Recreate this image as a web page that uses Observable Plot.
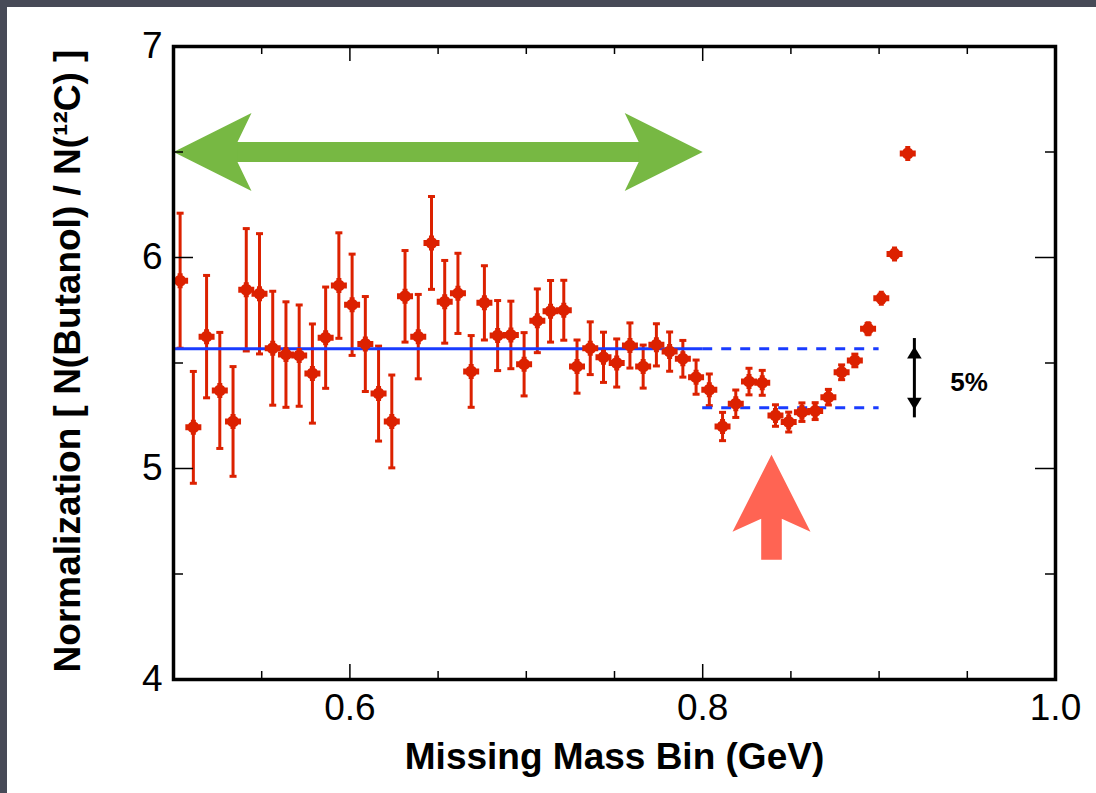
<!DOCTYPE html>
<html><head><meta charset="utf-8">
<script src="https://cdn.jsdelivr.net/npm/d3@7"></script>
<script src="https://cdn.jsdelivr.net/npm/@observablehq/plot@0.6"></script>
<style>
html,body{margin:0;padding:0;background:#474a57;width:1096px;height:793px;overflow:hidden}
#panel{position:absolute;left:7px;top:7px;width:1089px;height:786px;background:#fff}
</style></head><body><div id="panel"></div>
<script>
// ---- data ----
const massBin = [0.50375, 0.51125, 0.51875, 0.52625, 0.53375, 0.54125, 0.54875, 0.55625, 0.56375, 0.57125,
  0.57875, 0.58625, 0.59375, 0.60125, 0.60875, 0.61625, 0.62375, 0.63125, 0.63875, 0.64625,
  0.65375, 0.66125, 0.66875, 0.67625, 0.68375, 0.69125, 0.69875, 0.70625, 0.71375, 0.72125,
  0.72875, 0.73625, 0.74375, 0.75125, 0.75875, 0.76625, 0.77375, 0.78125, 0.78875, 0.79625,
  0.80375, 0.81125, 0.81875, 0.82625, 0.83375, 0.84125, 0.84875, 0.85625, 0.86375, 0.87125,
  0.87875, 0.88625, 0.89375, 0.90125, 0.90875, 0.91625];
const normalization = [5.89, 5.195, 5.625, 5.37, 5.223, 5.847, 5.828, 5.57, 5.54, 5.535,
  5.45, 5.62, 5.867, 5.776, 5.59, 5.355, 5.223, 5.816, 5.625, 6.069,
  5.79, 5.83, 5.46, 5.785, 5.63, 5.633, 5.494, 5.70, 5.745, 5.75,
  5.483, 5.57, 5.527, 5.50, 5.583, 5.483, 5.586, 5.554, 5.52, 5.433,
  5.373, 5.199, 5.307, 5.412, 5.406, 5.251, 5.22, 5.267, 5.272, 5.338,
  5.456, 5.512, 5.662, 5.807, 6.017, 6.493];
const normError = [0.32, 0.265, 0.29, 0.275, 0.26, 0.29, 0.285, 0.27, 0.25, 0.24,
  0.235, 0.24, 0.25, 0.24, 0.225, 0.225, 0.22, 0.217, 0.2, 0.22,
  0.196, 0.19, 0.17, 0.176, 0.166, 0.16, 0.15, 0.151, 0.146, 0.142,
  0.126, 0.125, 0.119, 0.114, 0.107, 0.102, 0.1, 0.093, 0.087, 0.081,
  0.075, 0.067, 0.065, 0.063, 0.059, 0.051, 0.047, 0.044, 0.04, 0.037,
  0.035, 0.03, 0.025, 0.02, 0.018, 0.015];

const plateauLevel = [5.567];          // mean normalization, 0.5–0.8 GeV
const lowerLevel = [5.288];            // 5% below
const solidSpan = [0.5, 0.8];
const dashedSpan = [0.8, 0.9];
const greenArrowX = [0.5, 0.8];
const greenArrowY = [6.5];
const redArrowTip = [{x: 0.839, y: 5.065}];
const bandArrowX = [0.92];
const bandArrowY = [5.278, 5.578];
const bandLabel = [{x: 0.951, y: 5.409, text: "5%"}];

const xLabelTicks = [0.6, 0.8, 1.0];
const xMajorTicks = [0.6, 0.8];
const xMinorTicks = [0.55, 0.65, 0.7, 0.75, 0.85, 0.9, 0.95];
const yLabelTicks = [4, 5, 6, 7];
const yMajorTicks = [5, 6];
const yMinorTicks = [4.5, 5.5, 6.5];
const xTitle = "Missing Mass Bin (GeV)";
const yTitle = "Normalization [ N(Butanol) / N(\u00B9\u00B2C) ]";

// ---- styling ----
const RED = "#dc2100", BLUE = "#1a3cff", GREEN = "#77b843", SALMON = "#ff6453";
const W = 882, H = 633;

function rect(c, x, y, w, h) { c.moveTo(x, y); c.lineTo(x + w, y); c.lineTo(x + w, y + h); c.lineTo(x, y + h); c.closePath(); }
const blob = {draw(c) { c.moveTo(6, 0); c.arc(0, 0, 6, 0, 2 * Math.PI); c.closePath(); rect(c, -8, -3, 16, 6); rect(c, -2.5, -7.5, 5, 15); }};
const cap = {draw(c) { rect(c, -3.5, -1.5, 7, 3); }};
const greenHead = {draw(c) { c.moveTo(0, 0); c.lineTo(-78, -39); c.lineTo(-64, -10); c.lineTo(-64, 10); c.lineTo(-78, 39); c.closePath(); }};
const redArrow = {draw(c) { c.moveTo(0, 0); c.lineTo(39, 77); c.lineTo(10.3, 64); c.lineTo(10.3, 105); c.lineTo(-10.3, 105); c.lineTo(-10.3, 64); c.lineTo(-39, 77); c.closePath(); }};
const smallHead = {draw(c) { c.moveTo(0, 0); c.lineTo(7.3, 12); c.lineTo(-7.3, 12); c.closePath(); }};

const points = massBin.map((x, i) => ({x, y: normalization[i], e: normError[i]}));

const chart = Plot.plot({
  width: 1089, height: 786,
  marginLeft: 166, marginRight: 41, marginTop: 39, marginBottom: 114,
  x: {domain: [0.5, 1.0], label: null},
  y: {domain: [4, 7], label: null},
  style: {fontFamily: "'Liberation Sans', Arial, Helvetica, sans-serif", background: "white", color: "black", overflow: "visible"},
  marks: [
    // green range arrow
    Plot.ruleY(greenArrowY, {x1: greenArrowX[0], x2: greenArrowX[1], stroke: GREEN, strokeWidth: 20, insetLeft: 62, insetRight: 62}),
    Plot.dot(greenArrowY, {x: greenArrowX[1], y: d => d, symbol: greenHead, fill: GREEN, stroke: "none"}),
    Plot.dot(greenArrowY, {x: greenArrowX[0], y: d => d, symbol: greenHead, rotate: 180, fill: GREEN, stroke: "none"}),
    // red indicator arrow
    Plot.dot(redArrowTip, {x: "x", y: "y", symbol: redArrow, fill: SALMON, stroke: "none"}),
    // error bars
    Plot.ruleX(points, {x: "x", y1: d => d.y - d.e, y2: d => d.y + d.e, stroke: RED, strokeWidth: 3}),
    Plot.dot(points, {x: "x", y: d => d.y + d.e, symbol: cap, fill: RED, stroke: "none"}),
    Plot.dot(points, {x: "x", y: d => d.y - d.e, symbol: cap, fill: RED, stroke: "none"}),
    // fit levels
    Plot.ruleY(plateauLevel, {x1: solidSpan[0], x2: solidSpan[1], stroke: BLUE, strokeWidth: 3}),
    Plot.ruleY(plateauLevel, {x1: dashedSpan[0], x2: dashedSpan[1], stroke: BLUE, strokeWidth: 3, strokeDasharray: "10,9"}),
    Plot.ruleY(lowerLevel, {x1: dashedSpan[0], x2: dashedSpan[1], stroke: BLUE, strokeWidth: 3, strokeDasharray: "10,9"}),
    // markers
    Plot.dot(points, {x: "x", y: "y", symbol: blob, fill: RED, stroke: "none"}),
    // 5% band arrow
    Plot.ruleX(bandArrowX, {y1: bandArrowY[0], y2: bandArrowY[1], stroke: "black", strokeWidth: 3, insetTop: 8, insetBottom: 8}),
    Plot.dot(bandArrowX, {x: d => d, y: bandArrowY[1], symbol: smallHead, fill: "black", stroke: "none"}),
    Plot.dot(bandArrowX, {x: d => d, y: bandArrowY[0], symbol: smallHead, rotate: 180, fill: "black", stroke: "none"}),
    Plot.text(bandLabel, {x: "x", y: "y", text: "text", fontSize: 26, fontWeight: "bold", fill: "black"}),
    // inward ticks
    Plot.ruleX(xMajorTicks, {insetTop: H - 15, stroke: "black", strokeWidth: 1.5}),
    Plot.ruleX(xMajorTicks, {insetBottom: H - 15, stroke: "black", strokeWidth: 1.5}),
    Plot.ruleX(xMinorTicks, {insetTop: H - 8, stroke: "black", strokeWidth: 1.5}),
    Plot.ruleX(xMinorTicks, {insetBottom: H - 8, stroke: "black", strokeWidth: 1.5}),
    Plot.ruleY(yMajorTicks, {insetRight: W - 20, stroke: "black", strokeWidth: 1.5}),
    Plot.ruleY(yMajorTicks, {insetLeft: W - 20, stroke: "black", strokeWidth: 1.5}),
    Plot.ruleY(yMinorTicks, {insetRight: W - 10, stroke: "black", strokeWidth: 1.5}),
    Plot.ruleY(yMinorTicks, {insetLeft: W - 10, stroke: "black", strokeWidth: 1.5}),
    Plot.frame({stroke: "black", strokeWidth: 3.5}),
    // axes labels
    Plot.axisX({ticks: xLabelTicks, tickSize: 0, tickPadding: 14, fontSize: 37, tickFormat: d => d.toFixed(1), label: null}),
    Plot.axisY({ticks: yLabelTicks, tickSize: 0, tickPadding: 11, fontSize: 37, tickFormat: d => String(d), label: null}),
    Plot.text([xTitle], {frameAnchor: "bottom", textAnchor: "middle", lineAnchor: "bottom", dy: 89, fontSize: 37, fontWeight: "bold", fill: "black"}),
    Plot.text([yTitle], {frameAnchor: "left", textAnchor: "middle", lineAnchor: "bottom", rotate: -90, dx: -94, dy: -2, fontSize: 37, fontWeight: "bold", fill: "black"})
  ]
});
document.getElementById("panel").appendChild(chart);
</script></body></html>
